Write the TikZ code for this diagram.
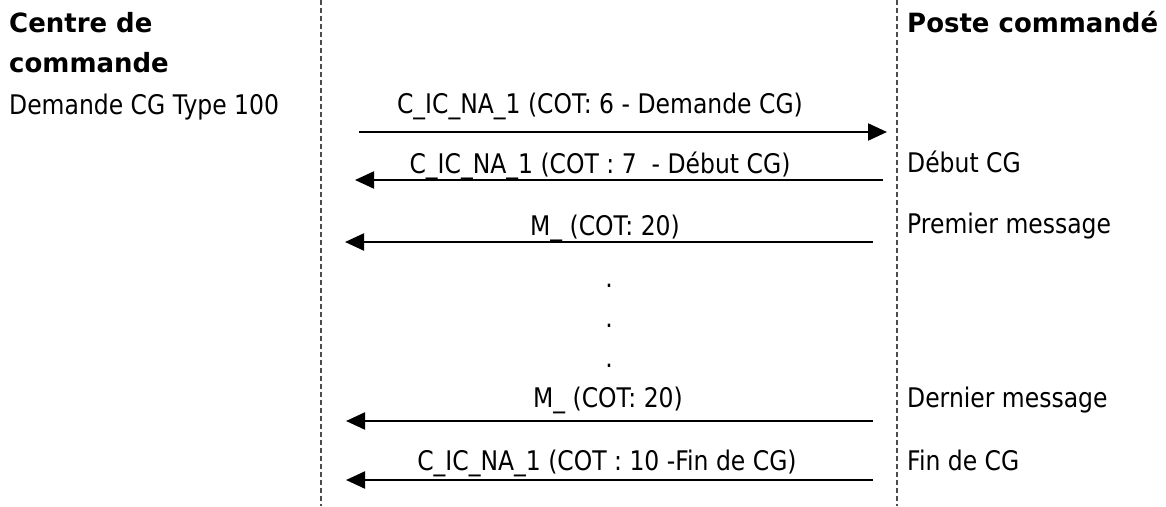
\documentclass[tikz,border=0pt]{standalone}
\usepackage{fontspec}
\setmainfont{DejaVu Sans}[FakeStretch=0.87]
\newfontfamily\hdfont{DejaVu Sans}[FakeStretch=0.98]
\usetikzlibrary{arrows.meta}
\tikzset{
  lifeline/.style={draw=black!70, line width=1.3pt, dash pattern=on 5pt off 3pt},
  msg/.style={draw=black, line width=2.2pt, -{Triangle[length=19pt 0,width=17pt 0]}},
  txt/.style={anchor=base west, inner sep=0pt, font=\fontsize{27}{30}\selectfont},
  head/.style={anchor=base west, inner sep=0pt, font=\hdfont\bfseries\fontsize{26.5}{30}\selectfont},
  lbl/.style={anchor=base, inner sep=0pt, font=\fontsize{27}{30}\selectfont},
}
\begin{document}
\begin{tikzpicture}[x=1pt,y=-1pt]
\useasboundingbox (0,0) rectangle (1166,506);
% lifelines
\coordinate (lt) at (321,0); \coordinate (lb) at (321,506);
\coordinate (rt) at (897,0); \coordinate (rb) at (897,506);
\draw[lifeline] (lt) -- (lb);
\draw[lifeline] (rt) -- (rb);
% headers
\node[head] (h1) at (9,32) {Centre de};
\node[head] (h2) at (9,72) {commande};
\node[txt] (dem) at (9,114) {Demande CG Type 100};
\node[head] (h3) at (907,32) {Poste command\'e};
% messages
\coordinate (a1s) at (359,132); \coordinate (a1e) at (887,132);
\coordinate (a2s) at (883,180); \coordinate (a2e) at (355,180);
\coordinate (a3s) at (873,242); \coordinate (a3e) at (345,242);
\coordinate (a4s) at (873,421); \coordinate (a4e) at (346,421);
\coordinate (a5s) at (873,480); \coordinate (a5e) at (346,480);
\draw[msg] (a1s) -- (a1e);
\draw[msg] (a2s) -- (a2e);
\draw[msg] (a3s) -- (a3e);
\draw[msg] (a4s) -- (a4e);
\draw[msg] (a5s) -- (a5e);
\node[lbl] (l1) at (600,113) {C\_IC\_NA\_1 (COT: 6 - Demande CG)};
\node[lbl] (l2) at (600,173) {C\_IC\_NA\_1 (COT : 7\ \ - D\'ebut CG)};
\node[lbl] (l3) at (605,235) {M\_ (COT: 20)};
\node[lbl] (l4) at (608,407) {M\_ (COT: 20)};
\node[lbl] (l5) at (607,470) {C\_IC\_NA\_1 (COT : 10 -Fin de CG)};
% dots
\node[lbl] (d1) at (609,287) {.};
\node[lbl] (d2) at (609,327) {.};
\node[lbl] (d3) at (609,367) {.};
% right labels
\node[txt] (r1) at (907,172) {D\'ebut CG};
\node[txt] (r2) at (907,233) {Premier message};
\node[txt] (r3) at (907,407) {Dernier message};
\node[txt] (r4) at (907,470) {Fin de CG};
\end{tikzpicture}
\end{document}
